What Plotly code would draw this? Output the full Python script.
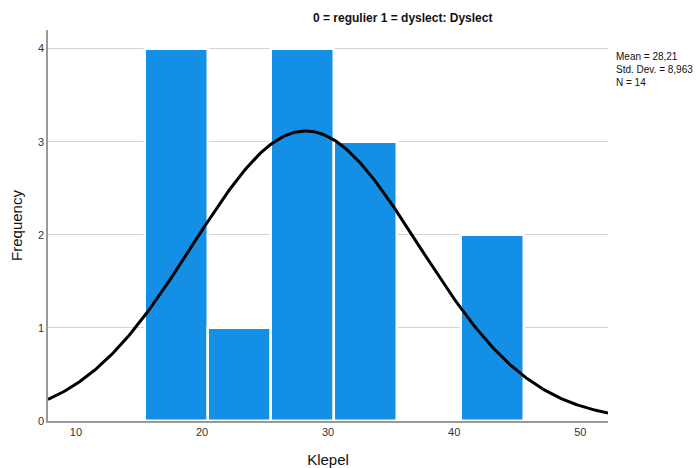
import numpy as np
import plotly.graph_objects as go

bin_centers = [18, 23, 28, 33, 43]
frequencies = [4, 1, 4, 3, 2]
bin_width = 5
mean_val = 28.21
sd_val = 8.963
n_val = 14
y_ticks = [0, 1, 2, 3, 4]
x_ticks = [10, 20, 30, 40, 50]
x_range = [7.78, 52.2]

xs = np.linspace(x_range[0], x_range[1], 300)
curve = n_val * bin_width / (sd_val * np.sqrt(2 * np.pi)) * np.exp(-0.5 * ((xs - mean_val) / sd_val) ** 2)

L, R, T, B = 48, 90, 30, 47
W, H = 698, 468
plot_w = W - L - R
plot_h = H - T - B

fig = go.Figure()
fig.add_trace(go.Bar(
    x=bin_centers, y=frequencies, width=bin_width,
    marker=dict(color="#138FE6", line=dict(color="white", width=2.5)),
    hoverinfo="skip", showlegend=False,
))
fig.add_trace(go.Scatter(
    x=xs, y=curve, mode="lines",
    line=dict(color="black", width=3),
    hoverinfo="skip", showlegend=False,
))

fig.update_layout(
    width=W, height=H,
    margin=dict(l=L, r=R, t=T, b=B, autoexpand=False),
    plot_bgcolor="white", paper_bgcolor="white",
    font=dict(family="Liberation Sans, Arial, sans-serif", color="#222222"),
    bargap=0,
    xaxis=dict(
        range=x_range, tickvals=x_ticks, ticks="", showgrid=False,
        showline=True, linecolor="#999999", linewidth=1.5,
        tickfont=dict(size=11, color="#333333"), zeroline=False,
        automargin=False,
        title=dict(text="Klepel", font=dict(size=15, color="#111111"), standoff=22),
    ),
    yaxis=dict(
        range=[0, 4.2], tickvals=y_ticks, ticks="",
        showgrid=True, gridcolor="#d4d4d4", gridwidth=1,
        showline=True, linecolor="#999999", linewidth=1.5,
        tickfont=dict(size=11, color="#333333"), zeroline=False,
        automargin=False,
        title=dict(text="Frequency", font=dict(size=15, color="#111111"), standoff=12),
    ),
    annotations=[
        dict(text="<b>0 = regulier 1 = dyslect: Dyslect</b>",
             x=(402 - L) / plot_w, y=(H - B - 18) / plot_h,
             xref="paper", yref="paper", yanchor="middle", showarrow=False,
             font=dict(size=12, color="#111111")),
        dict(text="Mean = 28,21<br>Std. Dev. = 8,963<br>N = 14",
             x=(614 - L) / plot_w, y=(H - B - 49) / plot_h,
             xref="paper", yref="paper", xanchor="left", yanchor="top",
             align="left", showarrow=False, font=dict(size=10, color="#111111")),
    ],
)

fig.write_html("out.html")
